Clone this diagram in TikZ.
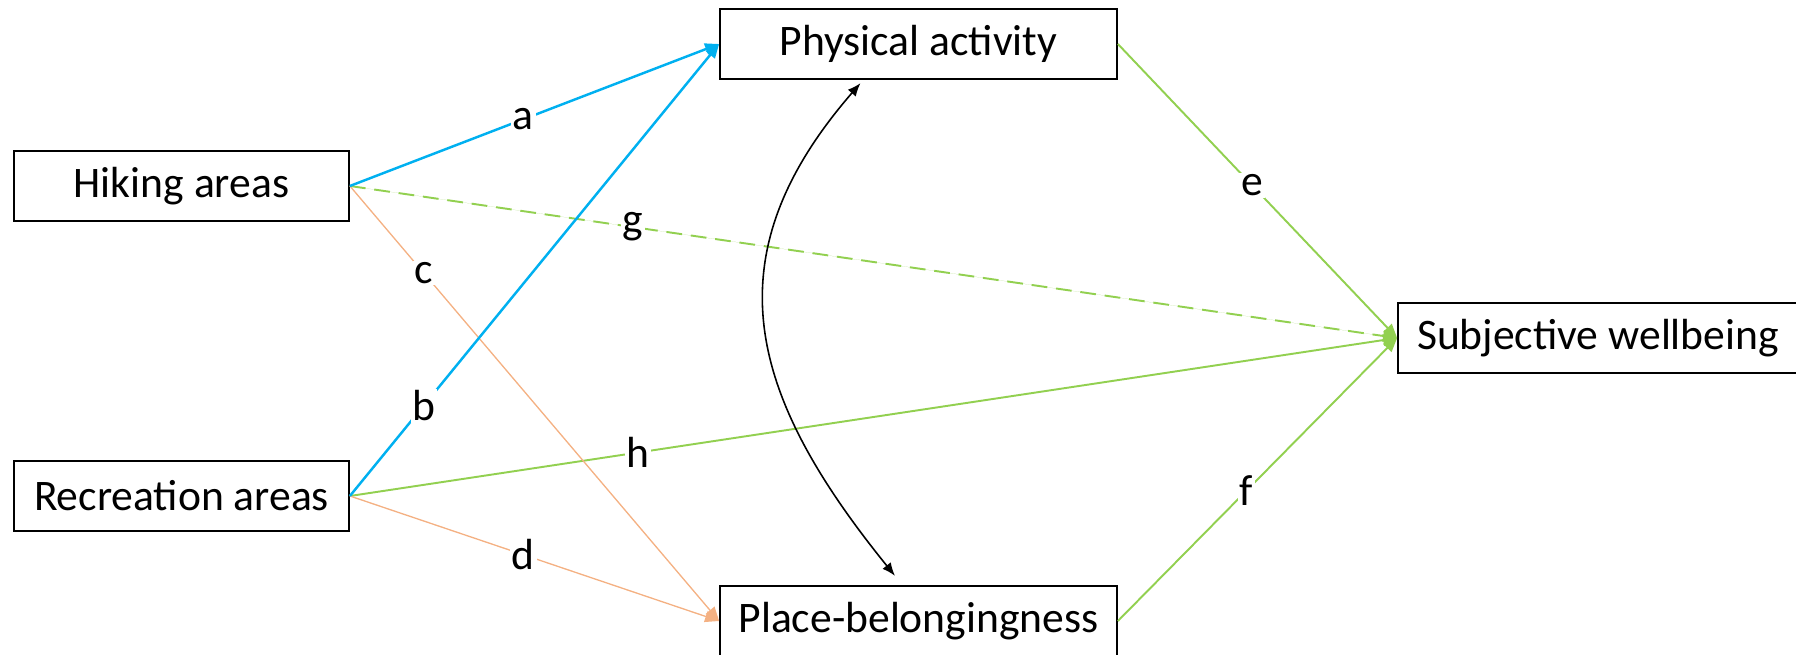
\documentclass[tikz,border=0pt]{standalone}
\usepackage{fontspec}
\setmainfont{Carlito}
\usetikzlibrary{arrows.meta}

\definecolor{pathblue}{HTML}{00B0F0}
\definecolor{pathgreen}{HTML}{92D050}
\definecolor{pathorange}{HTML}{F4B183}

\begin{document}
\begin{tikzpicture}[
  box/.style={draw=black, line width=1pt, minimum height=1.39cm, inner sep=0pt, font=\fontsize{24.8}{29}\selectfont},
  expbox/.style={box, minimum width=6.7cm},
  medbox/.style={box, minimum width=7.94cm},
  outbox/.style={box, minimum width=8.0cm},
  arrow/.style={-{Triangle[length=8pt,width=6.5pt]}},
  bluearrow/.style={arrow, draw=pathblue, fill=pathblue, line width=1.4pt},
  orangearrow/.style={arrow, draw=pathorange, fill=pathorange, line width=0.75pt},
  greenarrow/.style={arrow, draw=pathgreen, fill=pathgreen, line width=1.1pt},
  lbl/.style={fill=white, inner sep=1pt, font=\fontsize{24.8}{29}\selectfont}
]
  \useasboundingbox (0,0) rectangle (35.92,13.08);

  % Exposures (left)
  \node[expbox] (hike) at (3.63,9.36) {Hiking areas};
  \node[expbox] (rec) at (3.63,3.16) {Recreation areas};

  % Mediators (middle)
  \node[medbox] (pa) at (18.37,12.2) {Physical activity};
  \node[medbox] (pb) at (18.37,0.66) {Place-belongingness};

  % Outcome (right)
  \node[outbox] (sw) at (31.96,6.32) {Subjective wellbeing};

  % Direct paths
  \draw[greenarrow, dash pattern=on 9pt off 5pt] (hike.east) -- (sw.west)
    node[lbl, pos=0.27] {g};
  \draw[greenarrow] (rec.east) -- (sw.west)
    node[lbl, pos=0.275] {h};

  % Paths to mediators
  \draw[orangearrow] (hike.east) -- (pb.west) node[lbl, pos=0.2] {c};
  \draw[orangearrow] (rec.east) -- (pb.west) node[lbl, pos=0.47] {d};
  \draw[bluearrow] (hike.east) -- (pa.west) node[lbl, pos=0.47] {a};
  \draw[bluearrow] (rec.east) -- (pa.west) node[lbl, pos=0.2] {b};

  % Mediators to outcome
  \draw[greenarrow] (pa.east) -- (sw.west) node[lbl, pos=0.48] {e};
  \draw[greenarrow] (pb.east) -- (sw.west) node[lbl, pos=0.46] {f};

  % Covariance between mediators
  \draw[{Latex[length=7.5pt,width=6pt]}-{Latex[length=7.5pt,width=6pt]}, line width=0.9pt]
    ([xshift=-1.16cm, yshift=-0.07cm]pa.south) to[out=-131, in=129, looseness=1.2]
    ([xshift=-0.47cm, yshift=0.19cm]pb.north);

\end{tikzpicture}
\end{document}
